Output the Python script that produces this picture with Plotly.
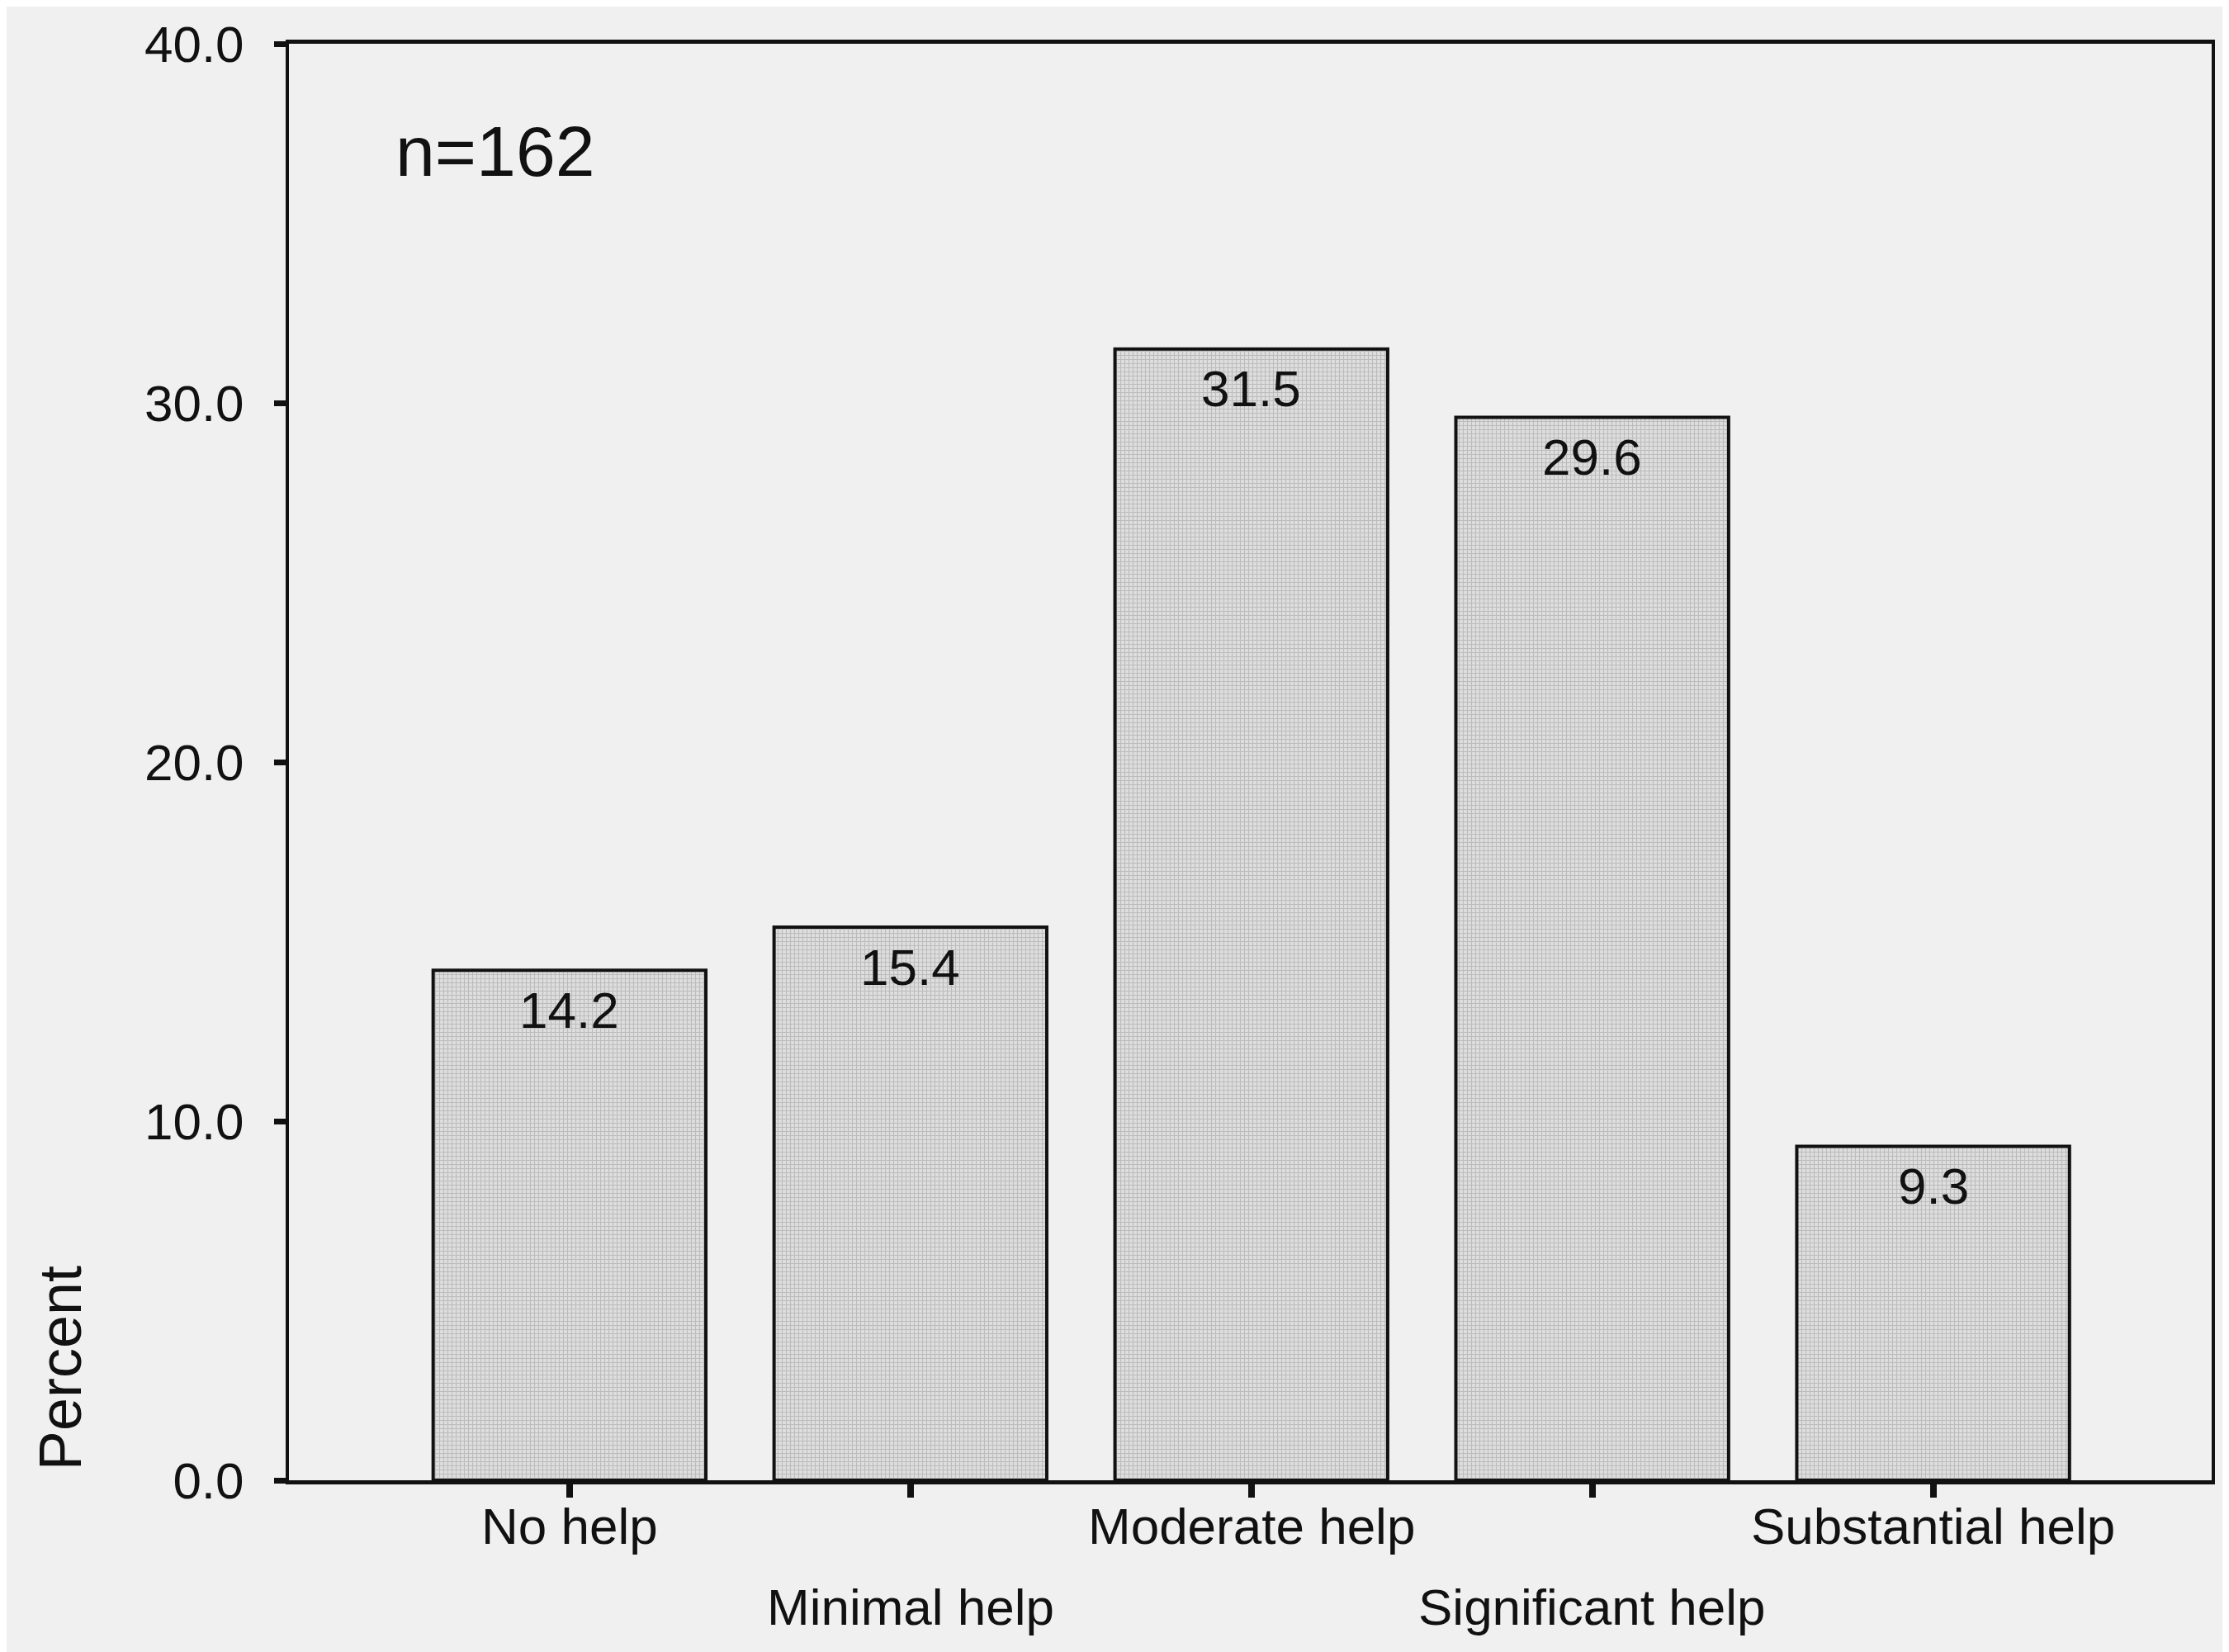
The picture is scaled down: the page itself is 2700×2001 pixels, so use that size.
import plotly.graph_objects as go

categories = ["No help", "Minimal help", "Moderate help", "Significant help", "Substantial help"]
percents = [14.2, 15.4, 31.5, 29.6, 9.3]
y_ticks = [0, 10, 20, 30, 40]
label_rows = [0, 1, 0, 1, 0]  # which row each category label sits on
sample_note = "n=162"

BG = "#f0f0f0"
INK = "#111111"
FONT = "Liberation Sans, Arial, sans-serif"

fig = go.Figure()
fig.add_trace(go.Bar(
    x=list(range(len(categories))),
    y=percents,
    marker=dict(
        color="#d6d6d6",
        line=dict(color=INK, width=4),
        pattern=dict(shape="+", size=5, solidity=0.4, fgcolor="#9a9a9a", bgcolor="#dedede"),
    ),
    width=0.8,
    hoverinfo="skip",
))

# value labels inside bar tops
for i, v in enumerate(percents):
    fig.add_annotation(x=i, y=v, xref="x", yref="y", text=f"{v:.1f}", showarrow=False,
                       yanchor="middle", yshift=-48,
                       font=dict(family=FONT, size=62, color=INK))

# category labels in two staggered rows
for i, (c, r) in enumerate(zip(categories, label_rows)):
    fig.add_annotation(x=i, y=-0.032 - 0.0565 * r, xref="x", yref="paper", text=c, showarrow=False,
                       yanchor="middle", font=dict(family=FONT, size=62, color=INK))

fig.add_annotation(x=-0.119, y=0.078, xref="paper", yref="paper", text="Percent", textangle=-90,
                   showarrow=False, xanchor="center", yanchor="middle",
                   font=dict(family=FONT, size=72, color=INK))
fig.add_annotation(x=0.0545, y=0.925, xref="paper", yref="paper", text=sample_note,
                   showarrow=False, xanchor="left", yanchor="middle",
                   font=dict(family=FONT, size=86, color=INK))

fig.update_layout(
    width=2692, height=1993,
    margin=dict(l=342, r=21, t=45, b=208),
    paper_bgcolor=BG, plot_bgcolor=BG,
    showlegend=False,
    bargap=0.2,
    xaxis=dict(range=[-0.823, 4.817], tickvals=list(range(len(categories))), showticklabels=False,
               ticks="outside", ticklen=16, tickwidth=8, tickcolor=INK,
               showline=True, linecolor=INK, linewidth=5, mirror=True,
               showgrid=False, zeroline=False, fixedrange=True),
    yaxis=dict(range=[0, 40], tickvals=y_ticks, tickformat=".1f",
               ticks="outside", ticklen=14, tickwidth=7, tickcolor=INK,
               ticklabelstandoff=24,
               tickfont=dict(family=FONT, size=62, color=INK),
               showline=True, linecolor=INK, linewidth=4, mirror=True,
               showgrid=False, zeroline=False, fixedrange=True),
)

fig.write_html("out.html")
